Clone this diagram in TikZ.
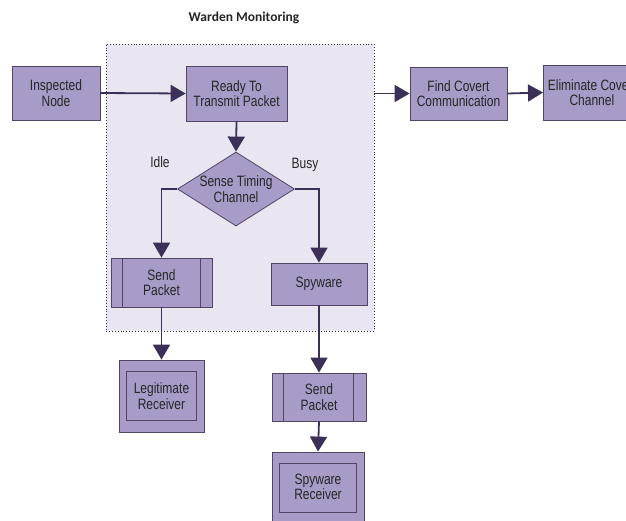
\documentclass[tikz,border=0pt]{standalone}
\usepackage{fontspec}
\setmainfont{Liberation Sans}[FakeStretch=0.8]
\newfontfamily\titlefont{Carlito}
\usetikzlibrary{arrows.meta,shapes.geometric}
\definecolor{boxfill}{RGB}{168,155,200}
\definecolor{boxline}{RGB}{80,70,100}
\definecolor{zonefill}{RGB}{233,229,241}
\definecolor{wire}{RGB}{60,48,88}
\begin{document}
\begin{tikzpicture}[x=1pt,y=-1pt,
  every node/.style={font=\fontsize{15}{15.5}\selectfont, text=black!85, align=center},
  block/.style={draw=boxline, line width=0.8pt, fill=boxfill, inner sep=0pt},
  decision/.style={diamond, draw=boxline, line width=0.8pt, fill=boxfill, inner sep=0pt, shape aspect=1.58},
  zone/.style={draw=black!80, dotted, line width=0.9pt, fill=zonefill, inner sep=0pt},
  flow/.style={draw=wire, line width=1.8pt, -{Triangle[length=15pt,width=17pt]}},
  innerbox/.style={draw=boxline, line width=0.8pt},
]
\useasboundingbox (0,0) rectangle (626,520);
\fill[white] (0,0) rectangle (626,520);

% monitored region
\node[zone, minimum width=268pt, minimum height=287pt] (warden) at (240,187.5) {};
\node[font=\titlefont\bfseries\fontsize{13.5}{15}\selectfont] (title) at (244,18) {Warden Monitoring};

% process boxes
\node[block, minimum width=88pt, minimum height=54pt] (insp) at (56,93) {Inspected\\Node};
\node[block, minimum width=101pt, minimum height=55pt] (ready) at (236.5,93.5) {Ready To\\Transmit Packet};
\node[decision, minimum width=117pt, minimum height=74pt] (sense) at (236,189) {Sense Timing\\Channel};
\node[block, minimum width=101pt, minimum height=49pt] (send) at (161.5,282.5) {Send\\Packet};
\node[block, minimum width=96pt, minimum height=42pt] (spy) at (319,284) {Spyware};
\node[block, minimum width=85pt, minimum height=72pt] (legit) at (161.5,396) {Legitimate\\Receiver};
\node[block, minimum width=94pt, minimum height=48pt] (sendb) at (319,397) {Send\\Packet};
\node[block, minimum width=92pt, minimum height=70pt] (sprx) at (318,487) {Spyware\\Receiver};
\node[block, minimum width=97pt, minimum height=53pt] (find) at (458.5,93.5) {Find Covert\\Communication};
\node[block, minimum width=97pt, minimum height=55pt, anchor=west] (elim) at (543,92.5) {Eliminate Covert\\Channel};

% predefined-process side bars
\draw[innerbox] ([xshift=12pt]send.north west) -- ([xshift=12pt]send.south west);
\draw[innerbox] ([xshift=-12pt]send.north east) -- ([xshift=-12pt]send.south east);
\draw[innerbox] ([xshift=12pt]sendb.north west) -- ([xshift=12pt]sendb.south west);
\draw[innerbox] ([xshift=-13pt]sendb.north east) -- ([xshift=-13pt]sendb.south east);

% framed receivers
\draw[innerbox] (legit.center) +(-35,-24.5) rectangle +(35,24.5);
\draw[innerbox] (sprx.center) +(-38.5,-24) rectangle +(38.5,25);

% branch labels
\node (idle) at (160,162) {Idle};
\node (busy) at (305,165) {Busy};

% connectors
\draw[flow] (insp.east) -- (ready.west);
\draw[flow] (ready.south) -- (sense.north);
\draw[flow] (sense.west) -| (send.north);
\draw[flow] (sense.east) -| (spy.north);
\draw[flow] (send.south) -- (legit.north);
\draw[flow] (spy.south) -- (sendb.north);
\draw[flow] (sendb.south) -- (sprx.north);
\draw[flow] (find.west -| warden.east) -- (find.west);
\draw[flow] (find.east) -- (elim.west);
\end{tikzpicture}
\end{document}
